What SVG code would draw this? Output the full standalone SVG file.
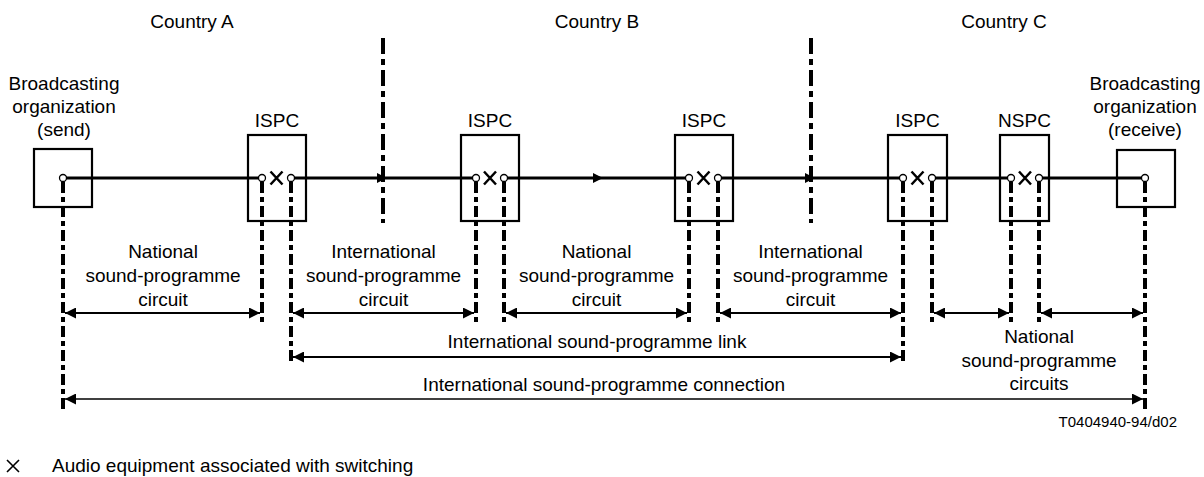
<svg xmlns="http://www.w3.org/2000/svg" width="1204" height="477" viewBox="0 0 1204 477">
<style>
text{font-family:"Liberation Sans",Arial,sans-serif;font-size:19px;fill:#000;text-anchor:middle}
.box{fill:none;stroke:#000;stroke-width:2.2}
.main{stroke:#000;stroke-width:3;fill:none}
.term{fill:#fff;stroke:#000;stroke-width:1.3}
.dash{stroke:#000;stroke-width:4;stroke-dasharray:11 4 5 4;fill:none}
.bound{stroke:#000;stroke-width:4;stroke-dasharray:16 5 6 5;fill:none}
.dim{stroke:#000;stroke-width:2;fill:none;marker-start:url(#ah);marker-end:url(#ah)}
.dimt{stroke:#000;stroke-width:1.3;fill:none;marker-start:url(#ah);marker-end:url(#ah)}
.x{stroke:#000;stroke-width:2.5;fill:none}
.arr{fill:#000}
</style>
<defs>
<marker id="ah" viewBox="0 0 11 11" refX="11" refY="5.5" markerWidth="11" markerHeight="11" markerUnits="userSpaceOnUse" orient="auto-start-reverse">
<path d="M0,0 L11,5.5 L0,11 Z" fill="#000"/>
</marker>
<path id="xm" class="x" d="M-6,-6.5 L6,6.5 M-6,6.5 L6,-6.5"/>
</defs>

<g id="country-labels">
<text x="192" y="28">Country A</text>
<text x="597" y="28">Country B</text>
<text x="1004" y="28">Country C</text>
</g>

<g id="boundaries">
<line class="bound" x1="383" y1="38" x2="383" y2="223"/>
<line class="bound" x1="811" y1="38" x2="811" y2="223"/>
</g>

<g id="connectors">
<g id="main-line">
<line class="main" x1="63" y1="178" x2="262" y2="178"/>
<line class="main" x1="291" y1="178" x2="476" y2="178"/>
<line class="main" x1="504" y1="178" x2="689" y2="178"/>
<line class="main" x1="718" y1="178" x2="903" y2="178"/>
<line class="main" x1="932" y1="178" x2="1011" y2="178"/>
<line class="main" x1="1039" y1="178" x2="1145" y2="178"/>
<path class="arr" d="M377,173 L387,178 L377,183 Z"/>
<path class="arr" d="M593,173 L603,178 L593,183 Z"/>
<path class="arr" d="M805,173 L815,178 L805,183 Z"/>
</g>
<g id="extensions">
<line class="dash" x1="63" y1="182" x2="63" y2="410"/>
<line class="dash" x1="262" y1="182" x2="262" y2="322"/>
<line class="dash" x1="291" y1="182" x2="291" y2="365"/>
<line class="dash" x1="476" y1="182" x2="476" y2="322"/>
<line class="dash" x1="504" y1="182" x2="504" y2="322"/>
<line class="dash" x1="689" y1="182" x2="689" y2="322"/>
<line class="dash" x1="718" y1="182" x2="718" y2="322"/>
<line class="dash" x1="903" y1="182" x2="903" y2="365"/>
<line class="dash" x1="932" y1="182" x2="932" y2="322"/>
<line class="dash" x1="1011" y1="182" x2="1011" y2="322"/>
<line class="dash" x1="1039" y1="182" x2="1039" y2="322"/>
<line class="dash" x1="1145" y1="182" x2="1145" y2="410"/>
</g>
<g id="dimensions">
<line class="dim" x1="65" y1="313" x2="260" y2="313"/>
<line class="dim" x1="293" y1="313" x2="474" y2="313"/>
<line class="dim" x1="506" y1="313" x2="687" y2="313"/>
<line class="dim" x1="720" y1="313" x2="901" y2="313"/>
<line class="dim" x1="934" y1="313" x2="1009" y2="313"/>
<line class="dim" x1="1041" y1="313" x2="1143" y2="313"/>
<line class="dim" x1="293" y1="357" x2="901" y2="357"/>
<line class="dimt" x1="65" y1="399" x2="1143" y2="399"/>
</g>
</g>

<g id="send">
<text x="64" y="90">Broadcasting</text>
<text x="64" y="113">organization</text>
<text x="64" y="136">(send)</text>
<rect class="box" x="34" y="149" width="58" height="58"/>
<circle class="term" cx="63" cy="178" r="3.5"/>
</g>

<g id="ispc1">
<text x="277" y="127">ISPC</text>
<rect class="box" x="248" y="135" width="58" height="86"/>
<use href="#xm" x="276.5" y="178"/>
<circle class="term" cx="262" cy="178" r="3.5"/>
<circle class="term" cx="291" cy="178" r="3.5"/>
</g>

<g id="ispc2">
<text x="490" y="127">ISPC</text>
<rect class="box" x="461" y="135" width="58" height="86"/>
<use href="#xm" x="490" y="178"/>
<circle class="term" cx="476" cy="178" r="3.5"/>
<circle class="term" cx="504" cy="178" r="3.5"/>
</g>

<g id="ispc3">
<text x="704" y="127">ISPC</text>
<rect class="box" x="675" y="135" width="58" height="86"/>
<use href="#xm" x="703.5" y="178"/>
<circle class="term" cx="689" cy="178" r="3.5"/>
<circle class="term" cx="718" cy="178" r="3.5"/>
</g>

<g id="ispc4">
<text x="917.5" y="127">ISPC</text>
<rect class="box" x="888" y="135" width="59" height="86"/>
<use href="#xm" x="917.5" y="178"/>
<circle class="term" cx="903" cy="178" r="3.5"/>
<circle class="term" cx="932" cy="178" r="3.5"/>
</g>

<g id="nspc">
<text x="1024.5" y="127">NSPC</text>
<rect class="box" x="1000" y="135" width="49" height="86"/>
<use href="#xm" x="1025" y="178"/>
<circle class="term" cx="1011" cy="178" r="3.5"/>
<circle class="term" cx="1039" cy="178" r="3.5"/>
</g>

<g id="receive">
<text x="1145" y="90">Broadcasting</text>
<text x="1145" y="113">organization</text>
<text x="1145" y="136">(receive)</text>
<rect class="box" x="1117" y="150" width="58" height="57"/>
<circle class="term" cx="1145" cy="178" r="3.5"/>
</g>

<g id="dimension-labels">
<text x="163" y="258">National</text>
<text x="163" y="282">sound-programme</text>
<text x="163" y="306">circuit</text>
<text x="383.5" y="258">International</text>
<text x="383.5" y="282">sound-programme</text>
<text x="383.5" y="306">circuit</text>
<text x="596.5" y="258">National</text>
<text x="596.5" y="282">sound-programme</text>
<text x="596.5" y="306">circuit</text>
<text x="810.5" y="258">International</text>
<text x="810.5" y="282">sound-programme</text>
<text x="810.5" y="306">circuit</text>
<text x="597" y="348">International sound-programme link</text>
<text x="604" y="391">International sound-programme connection</text>
<text x="1039" y="343">National</text>
<text x="1039" y="367">sound-programme</text>
<text x="1039" y="390">circuits</text>
</g>

<g id="figure-ref">
<text x="1177" y="427" style="font-size:15px;text-anchor:end">T0404940-94/d02</text>
</g>

<g id="legend">
<path class="x" style="stroke-width:1.6" d="M7,460 L19,472 M7,472 L19,460"/>
<text x="52" y="472" style="text-anchor:start">Audio equipment associated with switching</text>
</g>
</svg>
